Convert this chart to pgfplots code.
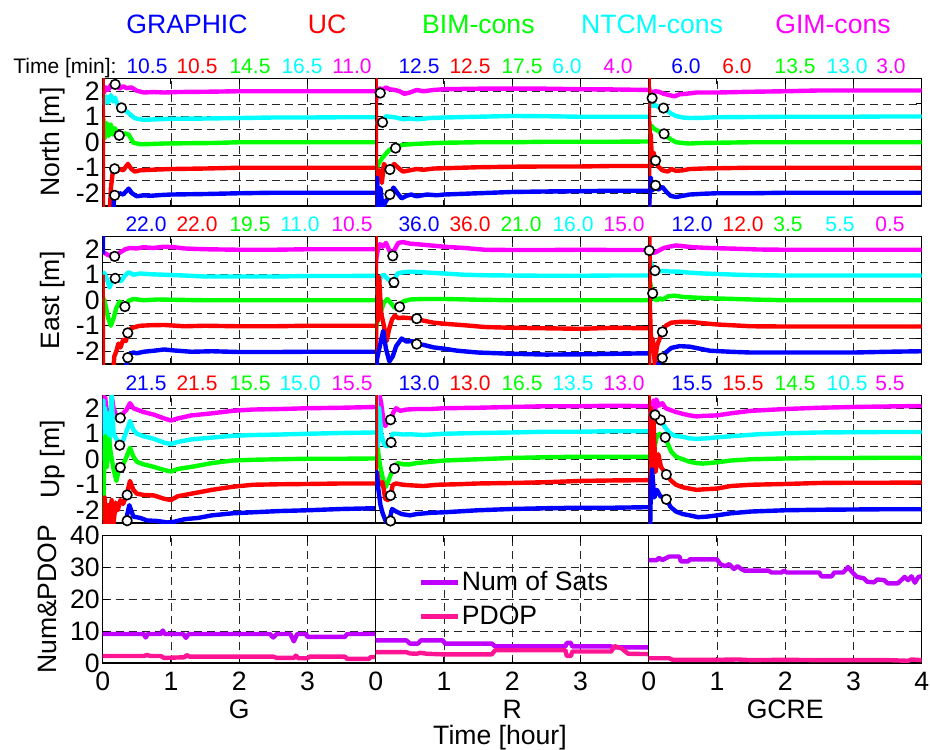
\documentclass[border=0pt]{standalone}
\usepackage{fontspec}
\setmainfont{Liberation Sans}
\usepackage{pgfplots}
\pgfplotsset{compat=1.18}
\newcommand\fs{\fontsize{13.3}{15}\selectfont}
\newcommand\fsn{\fontsize{10.5}{12}\selectfont}
\definecolor{sats}{rgb}{0.75,0,1}
\definecolor{pdop}{rgb}{1,0.08,0.58}
\definecolor{cB}{rgb}{0,0,1}
\definecolor{cR}{rgb}{1,0,0}
\definecolor{cG}{rgb}{0,1,0}
\definecolor{cC}{rgb}{0,1,1}
\definecolor{cM}{rgb}{1,0,1}
\pgfplotsset{
  base/.style={scale only axis, width=136.5pt, height=63.75pt, xmin=0, xmax=4,
    xtick={0,1,2,3,4}, xticklabels={},
    tick align=inside, major tick length=3pt, tick style={black, line width=0.5pt},
    grid=major, major grid style={black!85, line width=0.45pt, dash pattern=on 4pt off 2.5pt},
    axis line style={black, line width=0.7pt},
    unbounded coords=jump,
    every axis plot/.append style={line width=2.2pt, line join=round},
    ticklabel style={font=\fs},
    yticklabel style={xshift=2pt},
    xticklabel style={yshift=-1pt},
    label style={font=\fs},
    anchor=south west,
  },
  enu/.style={base, ymin=-2.5, ymax=2.5, ytick={-2,-1.5,...,2}, yticklabels={}},
  lab1/.style={yticklabels={-2,,-1,,0,,1,,2}},
  circ/.style={only marks, mark=*, mark size=2.4pt, mark options={fill=white, draw=black, line width=0.8pt}},
  ylab/.style={ylabel={#1}, ylabel style={at={(axis description cs:-0.183,0.5)}, anchor=center}},
}
\begin{document}
\begin{tikzpicture}
\useasboundingbox (0,0) rectangle (465pt,-374.5pt);
% ================= NORTH =================
\begin{axis}[enu, lab1, ylab={North [m]}, at={(51.35pt,-103pt)}]
\addplot[cM] coordinates {(0,2.0)(0.02,1.95)(0.05,2.15)(0.08,2.05)(0.12,2.25)(0.16,2.15)(0.2,2.2)(0.25,2.1)(0.3,2.2)(0.35,2.12)(0.42,2.15)(0.5,2.02)(0.6,1.95)(0.75,1.97)(0.9,1.95)(1.1,1.97)(1.5,1.98)(2,2.0)(2.5,2.0)(3,2.0)(3.5,2.0)(4,2.0)};
\addplot[cC] coordinates {(0,1.75)(0.02,1.5)(0.05,1.8)(0.08,1.55)(0.12,1.85)(0.15,1.6)(0.18,1.75)(0.22,1.45)(0.28,1.4)(0.33,1.25)(0.4,1.1)(0.45,0.98)(0.5,0.92)(0.6,0.88)(0.8,0.9)(1.0,0.92)(1.5,0.93)(2.0,0.95)(2.5,0.97)(3,0.97)(3.5,0.98)(4,0.98)};
\addplot[cG] coordinates {(0,0.5)(0.01,0.9)(0.03,0.15)(0.06,0.75)(0.09,0.25)(0.12,0.7)(0.15,0.3)(0.18,0.55)(0.22,0.25)(0.26,0.2)(0.32,0.35)(0.38,0.3)(0.45,-0.02)(0.55,-0.08)(0.7,-0.07)(0.9,-0.05)(1.2,-0.04)(1.6,-0.03)(2,0.0)(2.5,0.0)(3,0.0)(4,0.0)};
\addplot[cR] coordinates {(0,3)(0.005,-3)(0.1,-3)(0.12,-1.8)(0.15,-1.1)(0.2,-1.15)(0.25,-1.05)(0.3,-1.1)(0.37,-0.85)(0.42,-1.05)(0.47,-1.15)(0.55,-1.1)(0.7,-1.08)(1.0,-1.05)(1.5,-1.03)(2,-1.0)(2.5,-1.0)(3,-1.0)(4,-1.0)};
\addplot[cB] coordinates {(0.15,-3)(0.17,-2.0)(0.2,-2.1)(0.25,-2.0)(0.3,-2.05)(0.38,-1.82)(0.43,-2.0)(0.5,-2.12)(0.6,-2.08)(0.7,-2.1)(0.85,-2.07)(1.0,-2.05)(1.5,-2.03)(2,-2.0)(2.5,-1.98)(3,-1.98)(3.5,-1.98)(4,-1.98)};
\addplot[circ] coordinates {(0.175,-2.08)(0.175,-1.04)(0.242,0.27)(0.275,1.35)(0.183,2.27)};
\end{axis}
\begin{axis}[enu, at={(187.85pt,-103pt)}]
\addplot[cM] coordinates {(0,1.5)(0.01,1.7)(0.03,2.05)(0.06,2.12)(0.1,2.05)(0.15,2.15)(0.2,2.08)(0.28,2.05)(0.35,2.0)(0.42,1.9)(0.5,1.95)(0.6,2.05)(0.7,2.0)(0.85,2.05)(1.0,2.08)(1.5,2.1)(2,2.1)(2.5,2.1)(3,2.08)(3.5,2.07)(4,2.05)};
\addplot[cC] coordinates {(0,0.75)(0.05,0.75)(0.1,0.8)(0.15,1.02)(0.2,1.0)(0.3,0.97)(0.4,0.9)(0.5,0.93)(0.6,0.9)(0.8,0.95)(1.0,0.97)(1.5,1.0)(2,1.03)(2.5,1.02)(3,1.0)(3.5,1.0)(4,1.0)};
\addplot[cG] coordinates {(0.02,-1.0)(0.05,-0.8)(0.1,-0.6)(0.15,-0.45)(0.2,-0.3)(0.3,-0.18)(0.4,-0.1)(0.55,-0.07)(0.7,-0.05)(1.0,-0.02)(1.5,0.0)(2,0.0)(2.5,0.02)(3,0.02)(3.5,0.02)(4,0.03)};
\addplot[cR] coordinates {(0,3)(0.005,-3)(0.01,-1.0)(0.03,-1.5)(0.06,-1.1)(0.09,-1.6)(0.12,-0.85)(0.16,-1.0)(0.21,-1.05)(0.27,-0.85)(0.33,-1.0)(0.4,-1.15)(0.5,-1.1)(0.6,-1.05)(0.7,-1.08)(0.85,-1.03)(1.0,-1.02)(1.5,-0.98)(2,-0.96)(2.5,-0.95)(3,-0.95)(3.5,-0.93)(4,-0.93)};
\addplot[cB] coordinates {(0.005,-3)(0.02,-1.4)(0.04,-2.5)(0.07,-1.8)(0.1,-2.6)(0.15,-2.3)(0.21,-2.1)(0.26,-1.78)(0.32,-2.0)(0.38,-2.2)(0.45,-2.1)(0.52,-2.05)(0.6,-2.12)(0.75,-2.05)(0.9,-2.08)(1.0,-2.05)(1.5,-2.0)(2,-1.95)(2.5,-1.93)(3,-1.92)(3.5,-1.9)(4,-1.9)};
\addplot[circ] coordinates {(0.208,-2.05)(0.208,-1.07)(0.292,-0.23)(0.1,0.78)(0.067,1.93)};
\end{axis}
\begin{axis}[enu, at={(324.35pt,-103pt)}]
\addplot[cM] coordinates {(0,2.2)(0.02,1.95)(0.05,1.97)(0.1,2.0)(0.15,1.98)(0.22,1.9)(0.3,1.85)(0.38,1.8)(0.45,1.88)(0.55,1.9)(0.7,1.95)(1.0,1.95)(1.5,1.98)(2,2.0)(2.5,2.03)(3,2.03)(3.5,2.03)(4,2.03)};
\addplot[cC] coordinates {(0,1.4)(0.02,1.5)(0.06,1.42)(0.1,1.45)(0.15,1.38)(0.2,1.34)(0.26,1.25)(0.33,1.12)(0.4,1.03)(0.5,0.97)(0.6,0.95)(0.8,0.96)(1.0,0.98)(1.5,0.99)(2,1.0)(2.5,1.0)(3,1.0)(3.5,1.01)(4,1.01)};
\addplot[cG] coordinates {(0,0.3)(0.02,0.5)(0.04,0.65)(0.07,0.55)(0.1,0.5)(0.15,0.42)(0.2,0.38)(0.225,0.33)(0.28,0.2)(0.33,0.1)(0.4,0.0)(0.5,-0.03)(0.6,-0.05)(0.75,-0.03)(1.0,-0.02)(1.5,0.0)(2,0.0)(2.5,0.0)(3,0.0)(3.5,0.0)(4,0.0)};
\addplot[cR] coordinates {(0,3)(0.005,-3)(0.01,0.8)(0.02,-0.5)(0.03,0.3)(0.05,-0.9)(0.07,-0.4)(0.1,-0.72)(0.14,-0.95)(0.2,-1.1)(0.28,-1.15)(0.33,-1.05)(0.4,-1.12)(0.5,-1.1)(0.6,-1.05)(0.8,-1.03)(1.0,-1.02)(1.5,-1.0)(2,-1.0)(2.5,-1.0)(3,-1.0)(3.5,-1.0)(4,-1.0)};
\addplot[cB] coordinates {(0,-3)(0.01,-2.3)(0.03,-1.4)(0.05,-1.9)(0.1,-1.69)(0.14,-1.85)(0.2,-1.75)(0.26,-1.95)(0.32,-2.1)(0.4,-2.15)(0.5,-2.1)(0.6,-2.05)(0.8,-2.02)(1.0,-2.0)(1.5,-2.0)(2,-1.98)(2.5,-1.98)(3,-1.98)(3.5,-1.98)(4,-1.98)};
\addplot[circ] coordinates {(0.1,-1.69)(0.1,-0.72)(0.225,0.33)(0.217,1.34)(0.05,1.73)};
\end{axis}
% ================= EAST =================
\begin{axis}[enu, lab1, ylab={East [m]}, at={(51.35pt,-182pt)}]
\addplot[cM] coordinates {(0,1.9)(0.03,1.85)(0.06,1.8)(0.1,1.75)(0.15,1.82)(0.2,1.78)(0.27,1.9)(0.33,2.0)(0.4,2.05)(0.5,2.03)(0.6,2.08)(0.75,2.05)(0.9,2.1)(1.05,2.08)(1.2,2.03)(1.5,2.0)(2,1.98)(2.5,1.98)(3,2.0)(3.5,2.0)(4,2.0)};
\addplot[cC] coordinates {(0,1.1)(0.03,1.05)(0.07,0.75)(0.1,0.5)(0.13,0.7)(0.18,0.88)(0.22,0.8)(0.27,0.75)(0.32,0.95)(0.38,1.1)(0.45,1.0)(0.55,1.05)(0.7,1.02)(0.9,1.0)(1.2,0.97)(1.5,0.93)(2,0.93)(2.5,0.93)(3,0.95)(3.5,0.95)(4,0.96)};
\addplot[cG] coordinates {(0,-0.05)(0.02,0.05)(0.05,-0.3)(0.08,-0.7)(0.12,-1.0)(0.16,-0.7)(0.2,-0.3)(0.25,-0.05)(0.29,-0.15)(0.33,-0.28)(0.38,-0.02)(0.45,0.05)(0.6,0.0)(0.8,0.03)(1,0.02)(1.5,0.0)(2,0.0)(2.5,0.0)(3,0.0)(4,0.0)};
\addplot[cR] coordinates {(0,1.0)(0.005,-3)(0.15,-3)(0.17,-2.2)(0.2,-2.0)(0.23,-1.7)(0.26,-1.85)(0.3,-1.55)(0.34,-1.6)(0.37,-1.25)(0.42,-1.1)(0.47,-1.05)(0.55,-1.0)(0.7,-0.98)(0.9,-0.97)(1.2,-1.02)(1.5,-1.0)(2,-1.02)(2.5,-1.02)(3,-1.0)(3.5,-1.0)(4,-1.0)};
\addplot[cB] coordinates {(0,3)(0.004,1.8)(0.01,nan)(0.33,-3)(0.36,-2.3)(0.4,-2.1)(0.45,-2.05)(0.5,-2.08)(0.6,-2.02)(0.75,-1.98)(0.9,-1.93)(1.05,-1.97)(1.3,-2.02)(1.6,-2.0)(2,-2.03)(2.5,-2.03)(3,-2.02)(3.5,-2.02)(4,-2.02)};
\addplot[circ] coordinates {(0.367,-2.25)(0.367,-1.28)(0.325,-0.25)(0.183,0.86)(0.175,1.72)};
\end{axis}
\begin{axis}[enu, at={(187.85pt,-182pt)}]
\addplot[cM] coordinates {(0,1.3)(0.01,1.65)(0.03,1.95)(0.06,2.2)(0.1,2.1)(0.15,2.25)(0.2,1.95)(0.24,1.75)(0.28,2.0)(0.33,2.25)(0.4,2.28)(0.5,2.22)(0.6,2.2)(0.8,2.15)(1.0,2.1)(1.3,2.05)(1.6,1.98)(2,1.97)(2.5,1.97)(3,1.98)(3.5,1.97)(4,1.97)};
\addplot[cC] coordinates {(0,0.2)(0.01,0.35)(0.04,0.6)(0.08,0.95)(0.12,1.0)(0.17,0.85)(0.22,0.75)(0.27,0.8)(0.32,1.05)(0.4,1.1)(0.5,1.12)(0.65,1.1)(0.8,1.08)(1.0,1.05)(1.3,1.0)(1.6,0.98)(2,0.97)(2.5,0.96)(3,0.96)(3.5,0.97)(4,0.97)};
\addplot[cG] coordinates {(0,-1.2)(0.01,-1.0)(0.04,-0.7)(0.08,-0.4)(0.12,-0.1)(0.17,0.05)(0.22,-0.1)(0.28,-0.3)(0.34,-0.25)(0.4,-0.05)(0.5,0.03)(0.7,0.05)(1.0,0.05)(1.5,0.02)(2,0.0)(2.5,0.0)(3,0.0)(3.5,0.0)(4,0.0)};
\addplot[cR] coordinates {(0,3)(0.005,-3)(0.01,0.2)(0.03,-0.8)(0.05,0.9)(0.08,-0.5)(0.12,-1.0)(0.16,-1.6)(0.2,-1.1)(0.24,-0.75)(0.28,-0.6)(0.33,-0.7)(0.4,-0.68)(0.5,-0.7)(0.58,-0.72)(0.7,-0.8)(0.85,-0.88)(1.0,-0.92)(1.3,-0.98)(1.6,-1.05)(2,-1.08)(2.5,-1.1)(3,-1.12)(3.5,-1.08)(4,-1.1)};
\addplot[cB] coordinates {(0,-3)(0.02,-2.3)(0.06,-1.8)(0.11,-1.2)(0.15,-1.9)(0.2,-2.4)(0.25,-2.2)(0.3,-1.8)(0.38,-1.5)(0.45,-1.62)(0.53,-1.6)(0.6,-1.72)(0.7,-1.75)(0.85,-1.85)(1.0,-1.9)(1.2,-1.98)(1.5,-2.05)(2,-2.1)(2.5,-2.13)(3,-2.12)(3.5,-2.1)(4,-2.08)};
\addplot[circ] coordinates {(0.6,-1.72)(0.6,-0.72)(0.35,-0.26)(0.267,0.7)(0.25,1.74)};
\end{axis}
\begin{axis}[enu, at={(324.35pt,-182pt)}]
\addplot[cM] coordinates {(0,2.0)(0.008,1.95)(0.05,1.85)(0.1,1.88)(0.15,1.95)(0.22,2.05)(0.3,2.1)(0.4,2.15)(0.5,2.12)(0.65,2.08)(0.8,2.06)(1.0,2.04)(1.3,2.02)(1.6,1.99)(2,1.98)(2.5,1.98)(3,1.98)(3.5,1.98)(4,1.98)};
\addplot[cC] coordinates {(0,1.7)(0.02,1.55)(0.05,1.35)(0.09,1.16)(0.13,1.12)(0.2,1.15)(0.3,1.13)(0.45,1.12)(0.6,1.08)(0.8,1.05)(1.0,1.03)(1.3,1.0)(1.6,0.98)(2,0.97)(2.5,0.97)(3,0.97)(3.5,0.97)(4,0.97)};
\addplot[cG] coordinates {(0,0.4)(0.02,0.7)(0.04,0.4)(0.058,0.27)(0.08,0.05)(0.12,0.0)(0.16,0.08)(0.2,0.02)(0.28,0.15)(0.38,0.18)(0.5,0.13)(0.7,0.1)(1.0,0.07)(1.5,0.03)(2,0.0)(2.5,0.0)(3,0.0)(3.5,0.0)(4,0.0)};
\addplot[cR] coordinates {(0,3)(0.005,-3)(0.01,2.5)(0.02,-0.5)(0.04,-2.0)(0.06,-1.5)(0.09,-2.5)(0.12,-1.8)(0.16,-1.5)(0.2,-1.24)(0.25,-1.0)(0.33,-0.88)(0.45,-0.85)(0.6,-0.85)(0.8,-0.9)(1.0,-0.95)(1.5,-1.02)(2,-1.03)(2.5,-1.03)(3,-1.03)(3.5,-1.03)(4,-1.03)};
\addplot[cB] coordinates {(0.1,-3)(0.15,-2.45)(0.2,-2.26)(0.25,-2.05)(0.33,-1.87)(0.45,-1.8)(0.6,-1.82)(0.75,-1.9)(0.9,-1.98)(1.2,-2.02)(1.5,-2.05)(2,-2.05)(2.5,-2.05)(3,-2.05)(3.5,-2.02)(4,-2.0)};
\addplot[circ] coordinates {(0.2,-2.26)(0.2,-1.24)(0.058,0.27)(0.092,1.16)(0.008,1.95)};
\end{axis}
% ================= UP =================
\begin{axis}[enu, lab1, ylab={Up [m]}, at={(51.35pt,-261.5pt)}]
\addplot[cM] coordinates {(0,1.8)(0.01,2.5)(0.025,1.2)(0.04,2.4)(0.06,1.1)(0.08,1.6)(0.1,1.3)(0.13,2.5)(0.16,2.0)(0.2,1.7)(0.25,1.6)(0.3,1.8)(0.35,1.95)(0.4,2.2)(0.45,2.0)(0.5,1.95)(0.6,1.85)(0.75,1.75)(0.9,1.6)(1.0,1.52)(1.1,1.6)(1.3,1.72)(1.6,1.8)(1.9,1.9)(2.2,1.95)(2.6,1.97)(3,2.0)(3.5,2.02)(4,2.05)};
\addplot[cC] coordinates {(0,0.5)(0.01,2.3)(0.02,0.0)(0.035,2.0)(0.05,0.3)(0.07,1.8)(0.1,0.5)(0.13,2.5)(0.16,1.0)(0.2,0.8)(0.25,0.55)(0.3,0.75)(0.35,1.1)(0.4,1.5)(0.45,1.15)(0.5,1.0)(0.6,0.9)(0.75,0.8)(0.9,0.65)(1.0,0.6)(1.1,0.68)(1.3,0.78)(1.6,0.85)(1.9,0.92)(2.2,0.95)(2.6,0.97)(3,1.0)(3.5,1.03)(4,1.05)};
\addplot[cG] coordinates {(0,-1.0)(0.01,-2.3)(0.02,-0.5)(0.04,0.9)(0.06,-0.3)(0.09,0.8)(0.12,0.2)(0.16,-0.4)(0.2,-0.85)(0.23,-0.5)(0.25,-0.32)(0.3,-0.2)(0.35,0.1)(0.4,0.45)(0.45,0.1)(0.5,-0.1)(0.6,-0.2)(0.75,-0.3)(0.9,-0.42)(1.0,-0.48)(1.1,-0.38)(1.3,-0.3)(1.6,-0.15)(1.9,-0.05)(2.2,-0.02)(2.6,0.0)(3,0.02)(3.5,0.02)(4,0.03)};
\addplot[cR] coordinates {(0,-2.0)(0.01,-3)(0.03,-1.5)(0.05,-2.6)(0.08,-1.8)(0.1,-2.6)(0.13,-1.6)(0.16,-2.5)(0.19,-1.7)(0.22,-2.0)(0.26,-1.6)(0.3,-1.75)(0.35,-1.4)(0.4,-0.85)(0.45,-1.2)(0.5,-1.35)(0.6,-1.4)(0.75,-1.42)(0.9,-1.55)(1.0,-1.6)(1.1,-1.45)(1.3,-1.35)(1.6,-1.2)(1.9,-1.08)(2.2,-1.0)(2.6,-0.98)(3,-0.97)(3.5,-0.95)(4,-0.95)};
\addplot[cB] coordinates {(0.3,-3)(0.34,-2.4)(0.39,-1.8)(0.45,-2.25)(0.55,-2.3)(0.65,-2.4)(0.8,-2.42)(0.95,-2.48)(1.05,-2.45)(1.2,-2.35)(1.4,-2.3)(1.6,-2.2)(1.9,-2.12)(2.2,-2.08)(2.6,-2.03)(3,-2.0)(3.5,-1.95)(4,-1.92)};
\addplot[circ] coordinates {(0.358,-2.41)(0.358,-1.4)(0.258,-0.32)(0.25,0.55)(0.258,1.62)};
\end{axis}
\begin{axis}[enu, at={(187.85pt,-261.5pt)}]
\addplot[cM] coordinates {(0,3)(0.02,2.4)(0.05,2.6)(0.08,2.2)(0.11,1.6)(0.14,1.3)(0.18,1.5)(0.22,1.55)(0.26,1.85)(0.3,2.0)(0.36,1.9)(0.45,1.95)(0.6,1.97)(0.8,1.97)(1.0,2.0)(1.5,2.02)(2,2.05)(2.5,2.08)(3,2.08)(3.5,2.1)(4,2.08)};
\addplot[cC] coordinates {(0,0.3)(0.01,2.5)(0.03,0.2)(0.05,2.0)(0.08,1.0)(0.12,0.6)(0.16,0.5)(0.2,0.55)(0.225,0.65)(0.24,1.0)(0.3,1.0)(0.4,0.97)(0.5,0.98)(0.7,0.95)(1.0,1.0)(1.5,1.03)(2,1.05)(2.5,1.08)(3,1.08)(3.5,1.1)(4,1.1)};
\addplot[cG] coordinates {(0,0.5)(0.01,0.0)(0.03,0.4)(0.06,-0.2)(0.1,-0.7)(0.14,-1.1)(0.18,-0.9)(0.22,-0.6)(0.275,-0.36)(0.32,-0.15)(0.4,-0.2)(0.5,-0.2)(0.6,-0.15)(0.8,-0.1)(1.0,-0.05)(1.5,0.0)(2,0.05)(2.5,0.08)(3,0.1)(3.5,0.1)(4,0.1)};
\addplot[cR] coordinates {(0,3)(0.005,-0.9)(0.02,-0.5)(0.05,-1.0)(0.1,-0.9)(0.14,-1.55)(0.18,-1.6)(0.217,-1.42)(0.25,-1.0)(0.3,-0.95)(0.4,-1.0)(0.5,-1.02)(0.7,-1.05)(0.9,-1.0)(1.2,-0.98)(1.5,-0.95)(2,-0.93)(2.5,-0.9)(3,-0.85)(3.5,-0.83)(4,-0.82)};
\addplot[cB] coordinates {(0,-1.2)(0.01,-0.5)(0.04,-1.2)(0.07,-1.8)(0.1,-2.1)(0.15,-2.45)(0.2,-2.4)(0.24,-1.95)(0.3,-2.05)(0.38,-2.15)(0.5,-2.2)(0.6,-2.15)(0.8,-2.1)(1.0,-2.08)(1.5,-2.0)(2,-1.95)(2.5,-1.92)(3,-1.9)(3.5,-1.9)(4,-1.88)};
\addplot[circ] coordinates {(0.217,-2.42)(0.217,-1.42)(0.275,-0.36)(0.225,0.66)(0.217,1.55)};
\end{axis}
\begin{axis}[enu, at={(324.35pt,-261.5pt)}]
\addplot[cM] coordinates {(0,1.0)(0.01,1.6)(0.03,2.1)(0.05,1.3)(0.07,2.3)(0.09,1.75)(0.11,2.35)(0.15,2.1)(0.2,2.2)(0.25,2.0)(0.3,1.95)(0.4,1.85)(0.5,1.78)(0.6,1.72)(0.7,1.68)(0.8,1.7)(1.0,1.72)(1.2,1.8)(1.5,1.9)(2,1.97)(2.5,2.02)(3,2.05)(3.5,2.07)(4,2.09)};
\addplot[cC] coordinates {(0,1.7)(0.02,1.85)(0.05,1.6)(0.08,1.75)(0.12,1.6)(0.175,1.54)(0.24,1.25)(0.3,1.05)(0.38,0.92)(0.5,0.88)(0.6,0.82)(0.7,0.8)(0.85,0.82)(1.0,0.86)(1.3,0.92)(1.6,0.98)(2,1.02)(2.5,1.05)(3,1.06)(3.5,1.07)(4,1.07)};
\addplot[cG] coordinates {(0,0.3)(0.02,0.0)(0.04,0.6)(0.08,0.4)(0.12,0.9)(0.16,1.0)(0.2,0.9)(0.24,0.86)(0.28,0.6)(0.33,0.3)(0.4,0.1)(0.5,0.0)(0.6,-0.1)(0.7,-0.15)(0.8,-0.17)(1.0,-0.12)(1.2,-0.05)(1.5,0.0)(2,0.03)(2.5,0.05)(3,0.05)(3.5,0.06)(4,0.06)};
\addplot[cR] coordinates {(0,3)(0.005,-3)(0.01,0.5)(0.02,-1.5)(0.03,2.0)(0.05,-0.5)(0.07,1.5)(0.1,-0.5)(0.14,0.2)(0.18,-0.3)(0.22,-0.45)(0.26,-0.6)(0.32,-0.82)(0.4,-1.0)(0.5,-1.1)(0.6,-1.15)(0.7,-1.2)(0.8,-1.18)(1.0,-1.15)(1.2,-1.05)(1.5,-1.0)(2,-0.97)(2.5,-0.93)(3,-0.92)(3.5,-0.92)(4,-0.91)};
\addplot[cB] coordinates {(0.01,-1.0)(0.02,-3)(0.03,-1.2)(0.05,-0.4)(0.08,-1.5)(0.12,-1.2)(0.17,-1.45)(0.22,-1.5)(0.26,-1.57)(0.32,-1.87)(0.4,-2.05)(0.5,-2.15)(0.6,-2.2)(0.72,-2.27)(0.85,-2.25)(1.0,-2.2)(1.2,-2.12)(1.5,-2.05)(2,-2.0)(2.5,-1.98)(3,-1.97)(3.5,-1.96)(4,-1.96)};
\addplot[circ] coordinates {(0.258,-1.57)(0.258,-0.6)(0.242,0.86)(0.175,1.54)(0.092,1.74)};
\end{axis}
% ================= NUM & PDOP =================
\begin{axis}[base, ymin=0, ymax=40, ytick={0,10,20,30,40}, yticklabels={0,10,20,30,40},
  xticklabels={0,1,2,3,{}}, ylabel={Num\&PDOP},
  ylabel style={at={(axis description cs:-0.204,0.5)}, anchor=center},
  at={(51.35pt,-331.5pt)}]
\addplot[sats] coordinates {(0,9.1)(0.6,9.1)(0.63,8.0)(0.66,9.1)(0.85,9.1)(0.88,10.2)(0.91,9.1)(1.18,9.1)(1.22,7.9)(1.26,9.1)(2.45,9.1)(2.5,8.0)(2.55,9.1)(2.75,9.1)(2.8,6.8)(2.85,9.1)(2.98,9.1)(3.0,8.2)(3.55,8.2)(3.58,9.1)(4,9.1)};
\addplot[pdop] coordinates {(0,2.2)(0.6,2.2)(0.65,2.5)(0.7,2.2)(0.85,2.2)(0.9,1.6)(1.2,1.8)(1.23,2.5)(1.27,2.0)(2.5,2.0)(2.55,1.6)(2.8,1.6)(2.83,2.3)(2.87,1.5)(3.0,1.5)(3.03,2.0)(3.55,2.0)(3.58,1.3)(3.9,1.3)(3.93,1.9)(4,1.9)};
\end{axis}
\begin{axis}[base, ymin=0, ymax=40, ytick={0,10,20,30,40}, yticklabels={},
  xticklabels={0,1,2,3,{}}, at={(187.85pt,-331.5pt)},
  legend style={at={(0.155,0.5)}, anchor=west, draw=none, fill=none, font=\fs, inner sep=0pt,
    row sep=4pt, nodes={inner sep=1pt}},
  legend cell align=left,
  legend image code/.code={\draw[#1, line width=2.2pt] (0pt,0pt) -- (18.5pt,0pt);}]
\addplot[sats] coordinates {(0,7.1)(0.45,7.1)(0.5,6.1)(0.62,6.1)(0.66,7.1)(0.98,7.1)(1.02,6.1)(1.7,6.1)(1.75,5.2)(2.78,5.2)(2.8,6.3)(2.86,6.3)(2.88,5.2)(3.45,5.2)(3.5,4.9)(4,4.9)};
\addlegendentry{Num of Sats}
\addplot[pdop] coordinates {(0,3.4)(0.45,3.4)(0.5,3.0)(0.6,2.9)(0.65,3.2)(0.75,2.9)(1.0,2.7)(1.7,2.7)(1.75,4.0)(2.78,4.0)(2.8,2.2)(2.86,2.2)(2.88,3.6)(3.45,3.6)(3.5,5.3)(3.6,4.6)(3.7,2.9)(4,2.8)};
\addlegendentry{PDOP}
\end{axis}
\begin{axis}[base, ymin=0, ymax=40, ytick={0,10,20,30,40}, yticklabels={},
  xticklabels={0,1,2,3,4}, at={(324.35pt,-331.5pt)}]
\addplot[sats] coordinates {(0,32.3)(0.12,32.3)(0.15,33.0)(0.2,32.3)(0.3,33.4)(0.45,33.4)(0.47,31.9)(0.58,31.9)(0.6,32.5)(1.0,32.5)(1.05,31.0)(1.12,30.4)(1.18,31.0)(1.25,29.5)(1.3,30.4)(1.35,29.6)(1.4,29.0)(1.75,29.0)(1.8,28.4)(1.95,28.4)(1.98,29.0)(2.02,28.4)(2.5,28.4)(2.53,27.2)(2.68,27.2)(2.72,28.4)(2.85,28.4)(2.92,30.1)(2.97,28.8)(3.05,27.0)(3.15,26.6)(3.2,25.5)(3.3,25.3)(3.35,26.2)(3.45,26.0)(3.5,25.0)(3.65,25.0)(3.7,26.0)(3.75,27.0)(3.8,26.0)(3.85,27.2)(3.9,25.2)(3.95,27.0)(4,27.2)};
\addplot[pdop] coordinates {(0,1.5)(0.3,1.5)(0.35,1.0)(1.0,1.0)(1.3,1.1)(1.5,0.9)(2,1.0)(2.5,0.9)(3,0.9)(3.5,0.9)(3.8,0.7)(3.85,1.1)(4,0.9)};
\end{axis}
% ================= TEXTS =================
\begin{scope}[every node/.style={anchor=base, inner sep=0pt, font=\fs}]
\node[text=cB] at (93.5pt,-16.65pt) {GRAPHIC};
\node[text=cR] at (163.5pt,-16.65pt) {UC};
\node[text=cG] at (239.2pt,-16.65pt) {BIM-cons};
\node[text=cC] at (326pt,-16.65pt) {NTCM-cons};
\node[text=cM] at (416.5pt,-16.65pt) {GIM-cons};
\node at (119.6pt,-359pt) {G};
\node at (256.1pt,-359pt) {R};
\node at (392.6pt,-359pt) {GCRE};
\node at (250pt,-372pt) {Time [hour]};
\end{scope}
\begin{scope}[every node/.style={anchor=base, inner sep=0pt, font=\fsn}]
\node[anchor=base west] at (6.5pt,-36.65pt) {Time [min]:};
% North
\node[text=cB] at (73.5pt,-36.65pt) {10.5};
\node[text=cR] at (98.5pt,-36.65pt) {10.5};
\node[text=cG] at (125pt,-36.65pt) {14.5};
\node[text=cC] at (151pt,-36.65pt) {16.5};
\node[text=cM] at (176pt,-36.65pt) {11.0};
\node[text=cB] at (209.5pt,-36.65pt) {12.5};
\node[text=cR] at (235pt,-36.65pt) {12.5};
\node[text=cG] at (261pt,-36.65pt) {17.5};
\node[text=cC] at (283.5pt,-36.65pt) {6.0};
\node[text=cM] at (309pt,-36.65pt) {4.0};
\node[text=cB] at (343pt,-36.65pt) {6.0};
\node[text=cR] at (368.5pt,-36.65pt) {6.0};
\node[text=cG] at (397.5pt,-36.65pt) {13.5};
\node[text=cC] at (423.5pt,-36.65pt) {13.0};
\node[text=cM] at (445.5pt,-36.65pt) {3.0};
% East
\node[text=cB] at (73pt,-115.85pt) {22.0};
\node[text=cR] at (98.5pt,-115.85pt) {22.0};
\node[text=cG] at (125pt,-115.85pt) {19.5};
\node[text=cC] at (150pt,-115.85pt) {11.0};
\node[text=cM] at (176pt,-115.85pt) {10.5};
\node[text=cB] at (209.5pt,-115.85pt) {36.0};
\node[text=cR] at (235pt,-115.85pt) {36.0};
\node[text=cG] at (260.5pt,-115.85pt) {21.0};
\node[text=cC] at (286.5pt,-115.85pt) {16.0};
\node[text=cM] at (312pt,-115.85pt) {15.0};
\node[text=cB] at (346pt,-115.85pt) {12.0};
\node[text=cR] at (371.5pt,-115.85pt) {12.0};
\node[text=cG] at (394pt,-115.85pt) {3.5};
\node[text=cC] at (420pt,-115.85pt) {5.5};
\node[text=cM] at (445pt,-115.85pt) {0.5};
% Up
\node[text=cB] at (73pt,-195.35pt) {21.5};
\node[text=cR] at (98.5pt,-195.35pt) {21.5};
\node[text=cG] at (125pt,-195.35pt) {15.5};
\node[text=cC] at (150pt,-195.35pt) {15.0};
\node[text=cM] at (176pt,-195.35pt) {15.5};
\node[text=cB] at (209.5pt,-195.35pt) {13.0};
\node[text=cR] at (235pt,-195.35pt) {13.0};
\node[text=cG] at (261pt,-195.35pt) {16.5};
\node[text=cC] at (286.5pt,-195.35pt) {13.5};
\node[text=cM] at (312pt,-195.35pt) {13.0};
\node[text=cB] at (346pt,-195.35pt) {15.5};
\node[text=cR] at (371.5pt,-195.35pt) {15.5};
\node[text=cG] at (397.5pt,-195.35pt) {14.5};
\node[text=cC] at (423.5pt,-195.35pt) {10.5};
\node[text=cM] at (445pt,-195.35pt) {5.5};
\end{scope}
\end{tikzpicture}
\end{document}
